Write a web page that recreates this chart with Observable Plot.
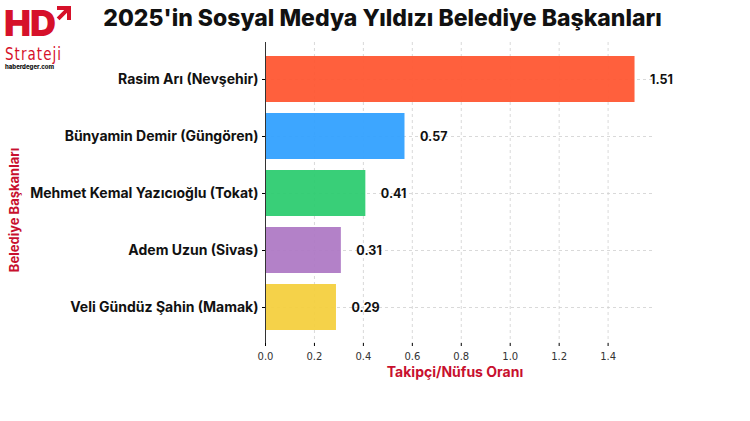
<!DOCTYPE html>
<html><head><meta charset="utf-8">
<script src="https://cdn.jsdelivr.net/npm/d3@7"></script>
<script src="https://cdn.jsdelivr.net/npm/@observablehq/plot@0.6"></script>
<style>
body{margin:0;background:#fff;}
#wrap{position:relative;width:750px;height:421px;overflow:hidden;font-family:Inter,"Open Sans",sans-serif;}
.abs{position:absolute;white-space:nowrap;line-height:1;}
</style></head>
<body><div id="wrap">
<div id="chart" class="abs" style="left:0;top:0"></div>
<div class="abs" style="left:0;width:765px;top:7px;text-align:center;font-size:23px;font-weight:800;color:#111;">2025'in Sosyal Medya Yıldızı Belediye Başkanları</div>
<svg class="abs" style="left:0;top:0;overflow:visible" width="80" height="44">
  <text x="4" y="36" font-family="Inter, sans-serif" font-size="36" font-weight="900" fill="#d6112a" letter-spacing="-1">HD</text>
  <path d="M2 2h14v14h-4V8.8L4.5 16.3 1.7 13.5 9.2 6H2z" fill="#d6112a" transform="translate(55,4)"/>
</svg>
<div class="abs" style="left:5px;top:46px;font-size:17px;font-weight:400;color:#d6112a;font-family:'DejaVu Sans Condensed','Liberation Sans Narrow',sans-serif;letter-spacing:1.2px;transform:scaleX(0.88);transform-origin:left;">Strateji</div>
<div class="abs" style="left:5px;top:64px;font-size:6px;font-weight:800;color:#111;">haberdeger.com</div>
<div class="abs" style="left:14px;top:210px;transform:translate(-50%,-50%) rotate(-90deg);font-size:13px;font-weight:700;color:#c8102e;">Belediye Başkanları</div>
<div class="abs" style="left:455px;top:372px;transform:translate(-50%,-50%);font-size:14px;font-weight:700;color:#c8102e;">Takipçi/Nüfus Oranı</div>
</div>
<script>
const names = ["Rasim Arı (Nevşehir)","Bünyamin Demir (Güngören)","Mehmet Kemal Yazıcıoğlu (Tokat)","Adem Uzun (Sivas)","Veli Gündüz Şahin (Mamak)"];
const values = [1.51, 0.57, 0.41, 0.31, 0.29];
const colors = ["#FF5733","#33A1FF","#2ECC71","#AF7AC5","#F4D03F"];
const xTicks = [0,0.2,0.4,0.6,0.8,1.0,1.2,1.4];
const data = names.map((n,i)=>({name:n,value:values[i],color:colors[i]}));

const chart = Plot.plot({
  width:750, height:421,
  marginLeft:265, marginRight:97, marginTop:42, marginBottom:78,
  style:{fontFamily:"Inter, sans-serif", background:"transparent"},
  x:{domain:[0,1.5855], ticks:xTicks, tickFormat:d=>d.toFixed(1), label:null},
  y:{domain:names, paddingInner:0.2, paddingOuter:0.24, label:null},
  marks:[
    Plot.gridX(xTicks,{stroke:"#cfcfcf",strokeOpacity:0.8,strokeDasharray:"3,3"}),
    Plot.gridY({stroke:"#cfcfcf",strokeOpacity:0.8,strokeDasharray:"3,3"}),
    Plot.barX(data,{y:"name",x:"value",fill:"color",fillOpacity:0.95}),
    Plot.text(data,{y:"name",x:"value",text:d=>d.value.toFixed(2),textAnchor:"start",dx:15,fontSize:12.5,fontWeight:700,fill:"#111"}),
    Plot.axisX({ticks:xTicks,tickFormat:d=>d.toFixed(1),tickSize:3,fontSize:10,fill:"#333",fontFamily:"DejaVu Sans",label:null}),
    Plot.axisY({tickSize:3,fontSize:14,fontWeight:700,fill:"#111",tickPadding:4,label:null}),
    Plot.ruleX([0],{stroke:"#333"}),
    Plot.ruleY([0],{stroke:"#333"})
  ]
});
document.getElementById("chart").appendChild(chart);
</script>
</body></html>
